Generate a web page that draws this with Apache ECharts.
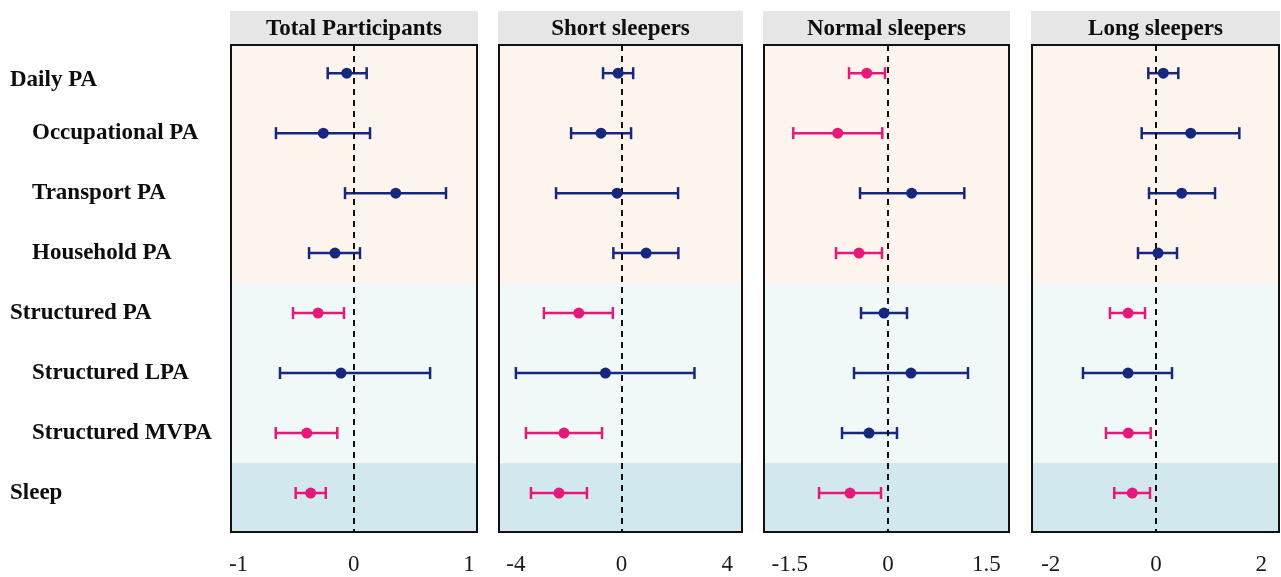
<!DOCTYPE html>
<html><head><meta charset="utf-8">
<script src="https://cdn.jsdelivr.net/npm/echarts@6/dist/echarts.min.js"></script>
<style>html,body{margin:0;padding:0;background:#fff}#c{width:1281px;height:577px}</style>
</head><body><div id="c"></div>
<script>
// ---- data ----
const rowLabels = ['Daily PA','Occupational PA','Transport PA','Household PA','Structured PA','Structured LPA','Structured MVPA','Sleep'];
const rowIndent = [false,true,true,true,false,true,true,false];
const panelTitles = ['Total Participants','Short sleepers','Normal sleepers','Long sleepers'];
const tickValues = [[-1,0,1],[-4,0,4],[-1.5,0,1.5],[-2,0,2]];
const axisMin = [-1.065,-4.64,-1.893,-2.357];
const axisMax = [1.069,4.56,1.847,2.338];

const estTotal = [-0.061,-0.264,0.364,-0.163,-0.310,-0.111,-0.408,-0.374];
const loTotal  = [-0.226,-0.675,-0.076,-0.388,-0.527,-0.640,-0.677,-0.504];
const hiTotal  = [0.112,0.141,0.800,0.054,-0.085,0.662,-0.143,-0.243];

const estShort = [-0.13,-0.78,-0.17,0.93,-1.62,-0.61,-2.18,-2.37];
const loShort  = [-0.70,-1.91,-2.48,-0.31,-2.94,-4.00,-3.62,-3.43];
const hiShort  = [0.44,0.36,2.14,2.15,-0.33,2.76,-0.74,-1.31];

const estNormal = [-0.325,-0.768,0.361,-0.443,-0.061,0.351,-0.290,-0.580];
const loNormal  = [-0.595,-1.446,-0.427,-0.794,-0.412,-0.519,-0.702,-1.053];
const hiNormal  = [-0.046,-0.087,1.165,-0.092,0.290,1.221,0.137,-0.107];

const estLong = [0.139,0.660,0.488,0.038,-0.532,-0.532,-0.527,-0.451];
const loLong  = [-0.146,-0.272,-0.133,-0.342,-0.875,-1.388,-0.951,-0.793];
const hiLong  = [0.424,1.584,1.122,0.399,-0.209,0.304,-0.101,-0.114];

// groups of rows shaded together
const bandFirstRow = [0,4,7];
const bandLastRow  = [3,6,7];

// ---- styling / layout ----
const NAVY = '#15277f', PINK = '#e8187a';
const bandColors = ['#fdf5ed','#f0f9f7','#d1e8ef'];
const FONT = '"Liberation Serif","Times New Roman",serif';
const panels = [
  {est:estTotal, lo:loTotal, hi:hiTotal},
  {est:estShort, lo:loShort, hi:hiShort},
  {est:estNormal, lo:loNormal, hi:hiNormal},
  {est:estLong, lo:loLong, hi:hiLong}
];
const gridLeft = [231,499,764,1032];
const gridWidth = [246,243,245,247];
const gridTop = 45, gridHeight = 487;
const yMin = -0.47, yMax = 7.65;

const sig = (lo,hi) => (hi < 0 || lo > 0);

const chart = echarts.init(document.getElementById('c'), null, {renderer:'canvas'});
const grid = [], xAxis = [], yAxis = [], series = [], graphic = [];
const nBands = bandFirstRow.length;

panels.forEach((p, i) => {
  grid.push({left:gridLeft[i], width:gridWidth[i], top:gridTop, height:gridHeight, containLabel:false});
  xAxis.push({
    type:'value', gridIndex:i, min:axisMin[i], max:axisMax[i],
    axisLine:{show:false}, axisTick:{show:false}, splitLine:{show:false},
    axisLabel:{customValues:tickValues[i], fontSize:23, fontFamily:FONT, color:'#1a1a1a', margin:21,
      formatter: v => String(v)}
  });
  yAxis.push({
    type:'value', gridIndex:i, inverse:true, min:yMin, max:yMax,
    axisLine:{show:false}, axisTick:{show:false}, splitLine:{show:false},
    axisLabel: i === 0 ? {
      customValues:[0,1,2,3,4,5,6,7], align:'left', margin:221,
      formatter: v => (v === 0 ? '{c|' : rowIndent[v] ? '{b|' : '{a|') + rowLabels[v] + '}',
      rich:{
        a:{fontSize:23, fontWeight:'bold', fontFamily:FONT, color:'#0d0d0d'},
        b:{fontSize:23, fontWeight:'bold', fontFamily:FONT, color:'#0d0d0d', padding:[0,0,0,22]},
        c:{fontSize:23, fontWeight:'bold', fontFamily:FONT, color:'#0d0d0d', padding:[14,0,0,0]}
      }
    } : {show:false}
  });
  // background bands
  series.push({
    type:'custom', xAxisIndex:i, yAxisIndex:i, silent:true, z:1,
    data: bandFirstRow.map((r, k) => [r, bandLastRow[k], k]),
    renderItem:(params, api) => {
      const cs = params.coordSys;
      const k = api.value(2);
      const y1 = k === 0 ? cs.y : api.coord([0, api.value(0) - 0.5])[1];
      const y2 = k === nBands - 1 ? cs.y + cs.height : api.coord([0, api.value(1) + 0.5])[1];
      return {type:'rect', shape:{x:cs.x, y:y1, width:cs.width, height:y2 - y1},
        style:{fill:bandColors[k]}};
    }
  });
  // zero reference line
  series.push({
    type:'line', xAxisIndex:i, yAxisIndex:i, data:[], z:3, silent:true,
    markLine:{silent:true, symbol:['none','none'], label:{show:false},
      lineStyle:{color:'#111', width:2, type:[6,5]}, data:[{xAxis:0}]}
  });
  // error bars
  series.push({
    type:'custom', xAxisIndex:i, yAxisIndex:i, silent:true, z:4,
    data: p.est.map((e, r) => [r, p.lo[r], p.hi[r]]),
    renderItem:(params, api) => {
      const r = api.value(0), lo = api.value(1), hi = api.value(2);
      const a = api.coord([lo, r]), b = api.coord([hi, r]);
      const col = sig(lo, hi) ? PINK : NAVY;
      const cap = 6;
      const st = {stroke:col, lineWidth:2.5};
      return {type:'group', children:[
        {type:'line', shape:{x1:a[0], y1:a[1], x2:b[0], y2:b[1]}, style:st},
        {type:'line', shape:{x1:a[0], y1:a[1]-cap, x2:a[0], y2:a[1]+cap}, style:st},
        {type:'line', shape:{x1:b[0], y1:b[1]-cap, x2:b[0], y2:b[1]+cap}, style:st}
      ]};
    }
  });
  // point estimates
  series.push({
    type:'scatter', xAxisIndex:i, yAxisIndex:i, z:5, symbolSize:11, silent:true,
    data: p.est.map((e, r) => [e, r]),
    itemStyle:{opacity:1, color: params => sig(p.lo[params.dataIndex], p.hi[params.dataIndex]) ? PINK : NAVY}
  });
  // frame
  series.push({
    type:'custom', xAxisIndex:i, yAxisIndex:i, silent:true, z:6,
    data:[[0]],
    renderItem:(params) => {
      const cs = params.coordSys;
      return {type:'rect', shape:{x:cs.x, y:cs.y, width:cs.width, height:cs.height},
        style:{fill:'none', stroke:'#111', lineWidth:2}};
    }
  });
  // header strip
  graphic.push({type:'rect', shape:{x:gridLeft[i]-1, y:11, width:gridWidth[i]+2, height:33},
    style:{fill:'#e6e6e6'}, silent:true});
  graphic.push({type:'text', x:gridLeft[i] + gridWidth[i]/2, y:29, silent:true,
    style:{text:panelTitles[i], fill:'#0d0d0d', font:'bold 23px ' + FONT, align:'center', verticalAlign:'middle'}});
});

chart.setOption({animation:false, backgroundColor:'#fff', grid, xAxis, yAxis, series, graphic});
</script></body></html>
